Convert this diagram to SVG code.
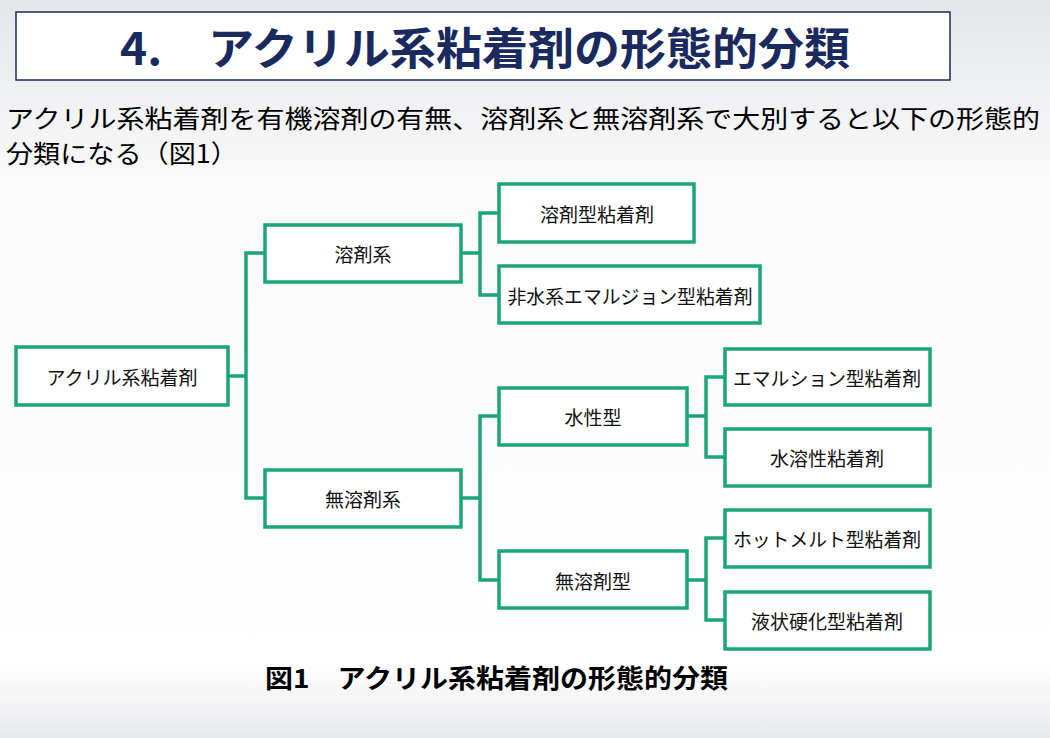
<svg xmlns="http://www.w3.org/2000/svg" width="1050" height="738" viewBox="0 0 1050 738">
<defs>
<linearGradient id="bg" x1="0" y1="0" x2="0" y2="1">
<stop offset="0" stop-color="#e4e6ea"/><stop offset="0.25" stop-color="#fafafa"/><stop offset="0.9" stop-color="#ffffff"/><stop offset="1" stop-color="#e8e9ec"/>
</linearGradient>
</defs>
<style>
.n rect{fill:#fff;stroke:#1aa67a;stroke-width:3.5}
.n text{font-family:"Noto Sans CJK JP","Liberation Sans",sans-serif;font-size:19px;fill:#111;text-anchor:middle;dominant-baseline:central}
#conn path{fill:none;stroke:#1aa67a;stroke-width:3.5}
.t{font-family:"Noto Sans CJK JP","Liberation Sans",sans-serif;fill:#000}
</style>
<rect width="1050" height="738" fill="url(#bg)"/>
<g id="title">
<rect x="16" y="12" width="934" height="68" fill="#fff" stroke="#1a2a5e" stroke-width="1.5"/>
<text x="120" y="65" class="t" font-size="44" font-weight="bold" style="fill:#1a2a5e" textLength="730" lengthAdjust="spacingAndGlyphs">4.　アクリル系粘着剤の形態的分類</text>
</g>
<g id="body">
<text x="6" y="128" class="t" font-size="25" textLength="1034" lengthAdjust="spacingAndGlyphs">アクリル系粘着剤を有機溶剤の有無、溶剤系と無溶剤系で大別すると以下の形態的</text>
<text x="6" y="163" class="t" font-size="25" textLength="232" lengthAdjust="spacingAndGlyphs">分類になる（図1）</text>
</g>
<g id="conn">
<path d="M228,376H246M265,253H246V498H265"/>
<path d="M461,253H480M499,213H480V295H499"/>
<path d="M461,498H480M499,416H480V580H499"/>
<path d="M687,416H706M725,377H706V457H725"/>
<path d="M687,580H706M725,538H706V620H725"/>
</g>
<g id="root" class="n"><rect x="16" y="347" width="212" height="58"/><text x="122" y="376">アクリル系粘着剤</text></g>
<g id="solvent" class="n"><rect x="265" y="225" width="196" height="57"/><text x="363" y="253">溶剤系</text></g>
<g id="nonsolvent" class="n"><rect x="265" y="470" width="196" height="57"/><text x="363" y="498">無溶剤系</text></g>
<g id="solventtype" class="n"><rect x="499" y="184" width="195" height="58"/><text x="597" y="213">溶剤型粘着剤</text></g>
<g id="nonaq" class="n"><rect x="499" y="266" width="261" height="57"/><text x="630" y="295" textLength="245" lengthAdjust="spacingAndGlyphs">非水系エマルジョン型粘着剤</text></g>
<g id="water" class="n"><rect x="499" y="388" width="188" height="57"/><text x="593" y="416">水性型</text></g>
<g id="nosolvtype" class="n"><rect x="499" y="551" width="188" height="57"/><text x="593" y="580">無溶剤型</text></g>
<g id="emul" class="n"><rect x="725" y="349" width="205" height="56"/><text x="827" y="377" textLength="188" lengthAdjust="spacingAndGlyphs">エマルション型粘着剤</text></g>
<g id="watersol" class="n"><rect x="725" y="429" width="205" height="57"/><text x="827" y="457">水溶性粘着剤</text></g>
<g id="hotmelt" class="n"><rect x="725" y="510" width="205" height="57"/><text x="827" y="538" textLength="188" lengthAdjust="spacingAndGlyphs">ホットメルト型粘着剤</text></g>
<g id="liquid" class="n"><rect x="725" y="592" width="205" height="57"/><text x="827" y="620">液状硬化型粘着剤</text></g>
<g id="caption"><text x="265" y="688" class="t" font-size="26" font-weight="bold" textLength="463" lengthAdjust="spacingAndGlyphs">図1　アクリル系粘着剤の形態的分類</text></g>
</svg>
